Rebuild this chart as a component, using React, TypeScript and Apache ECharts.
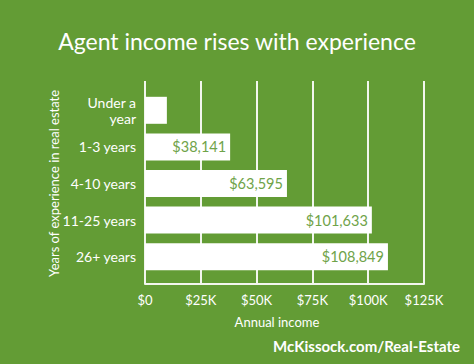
import React, { useEffect, useRef } from "react";
import * as echarts from "echarts";

const categories = ["Under a\nyear", "1-3 years", "4-10 years", "11-25 years", "26+ years"];
const incomes = [9800, 38141, 63595, 101633, 108849];
const xTicks = [0, 25000, 50000, 75000, 100000, 125000];

const BG = "#639c35";
const LABEL_GREEN = "#6fa349";
const FONT = "Lato";

export default function App() {
  const ref = useRef<HTMLDivElement>(null);
  useEffect(() => {
    if (!ref.current) return;
    const chart = echarts.init(ref.current, undefined, { renderer: "svg" });
    const fmtTick = (v: number) => (v === 0 ? "$0" : "$" + v / 1000 + "K");
    chart.setOption({
      animation: false,
      backgroundColor: BG,
      textStyle: { fontFamily: FONT },
      title: {
        text: "Agent income rises with experience",
        left: "center",
        top: 24,
        textStyle: { color: "#ffffff", fontSize: 23, fontWeight: "normal", fontFamily: FONT },
      },
      grid: [
        { left: 145, right: 50, top: 81, height: 203 },
        { left: 145, right: 50, top: 92, height: 183 },
      ],
      xAxis: [
        {
          gridIndex: 0,
          type: "value",
          min: xTicks[0],
          max: xTicks[xTicks.length - 1],
          interval: 25000,
          axisLine: { show: true, lineStyle: { color: "#f2f6ee", width: 2 } },
          axisTick: { show: false },
          splitLine: { show: true, lineStyle: { color: "#f2f6ee", width: 2 } },
          axisLabel: {
            color: "#ffffff",
            fontSize: 13,
            margin: 9,
            formatter: fmtTick,
          },
        },
        {
          gridIndex: 1,
          type: "value",
          min: xTicks[0],
          max: xTicks[xTicks.length - 1],
          show: false,
        },
      ],
      yAxis: [
        {
          gridIndex: 0,
          type: "category",
          data: categories,
          show: false,
        },
        {
          gridIndex: 1,
          type: "category",
          data: categories,
          inverse: true,
          axisLine: { show: false },
          axisTick: { show: false },
          splitLine: { show: false },
          axisLabel: {
            color: "#ffffff",
            fontSize: 14,
            margin: 9,
            align: "right",
            lineHeight: 16,
          },
          name: "Years of experience in real estate",
          nameLocation: "middle",
          nameRotate: 90,
          nameGap: 85,
          nameMoveOverlap: false,
          nameTextStyle: { color: "#ffffff", fontSize: 13, fontFamily: FONT },
        },
      ],
      series: [
        {
          type: "bar",
          xAxisIndex: 1,
          yAxisIndex: 1,
          data: incomes.map((v, i) => ({
            value: v,
            label: { show: i > 0 },
          })),
          barWidth: 27,
          itemStyle: { color: "#ffffff" },
          label: {
            show: true,
            position: "insideRight",
            distance: 4,
            color: LABEL_GREEN,
            fontSize: 14.5,
            fontFamily: FONT,
            formatter: (p: any) => "$" + Number(p.value).toLocaleString("en-US"),
          },
        },
      ],
      graphic: [
        {
          type: "text",
          x: 277,
          y: 322,
          style: {
            text: "Annual income",
            fill: "#ffffff",
            font: `13px ${FONT}`,
            textAlign: "center",
            textVerticalAlign: "middle",
          },
        },
        {
          type: "text",
          x: 460,
          y: 346,
          style: {
            text: "McKissock.com/Real-Estate",
            fill: "#ffffff",
            font: `bold 15px ${FONT}`,
            textAlign: "right",
            textVerticalAlign: "middle",
          },
        },
      ],
    });
    return () => chart.dispose();
  }, []);
  return (
    <div
      ref={ref}
      style={{ position: "fixed", left: 0, top: 0, width: 474, height: 364 }}
    />
  );
}
